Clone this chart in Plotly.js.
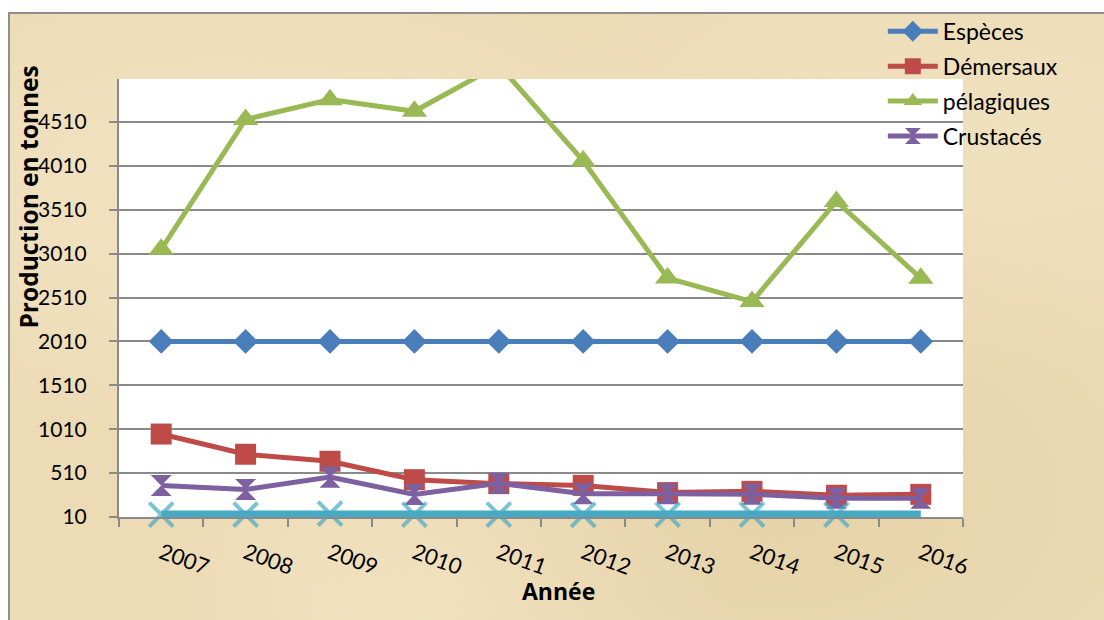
<!DOCTYPE html>
<html>
<head>
<meta charset="utf-8">
<script src="https://cdn.plot.ly/plotly-3.0.1.min.js"></script>
<style>
  html, body { margin: 0; padding: 0; background: #ffffff; }
  #frame {
    position: absolute; left: 8px; top: 12px; width: 1096px; height: 608px;
    border-left: 2px solid #8e8e8e; border-top: 2px solid #8e8e8e;
    background-color: #ecdbb5;
    background-image:
      radial-gradient(ellipse at 20% 30%, rgba(245,230,200,0.7) 0%, rgba(245,230,200,0) 40%),
      radial-gradient(ellipse at 70% 80%, rgba(225,205,160,0.6) 0%, rgba(225,205,160,0) 45%),
      radial-gradient(ellipse at 90% 20%, rgba(242,228,196,0.6) 0%, rgba(242,228,196,0) 35%),
      radial-gradient(ellipse at 40% 95%, rgba(248,234,205,0.6) 0%, rgba(248,234,205,0) 30%);
  }
  #chart { position: absolute; left: 0; top: 0; width: 1104px; height: 620px; }
</style>
</head>
<body>
<div id="frame"></div>
<div id="chart"></div>
<script>
// ---- Data ----
const annees = ['2007', '2008', '2009', '2010', '2011', '2012', '2013', '2014', '2015', '2016'];
const especes = [2010, 2010, 2010, 2010, 2010, 2010, 2010, 2010, 2010, 2010];
const demersaux = [955, 725, 645, 435, 390, 370, 288, 302, 258, 268];
const pelagiques = [3060, 4540, 4765, 4632, 5160, 4067, 2732, 2464, 3605, 2730];
const crustaces = [370, 324, 464, 267, 395, 275, 275, 270, 225, 225];
const serie5 = [38, 38, 48, 38, 38, 35, 38, 38, 38, 38];

const seriesNames = ['Espèces', 'Démersaux', 'pélagiques', 'Crustacés', 'Série 5'];
const yTicks = [10, 510, 1010, 1510, 2010, 2510, 3010, 3510, 4010, 4510];

const FONT = 'Lato, "Open Sans", sans-serif';
const TITLE_FONT = '"Open Sans", Lato, sans-serif';

function lineTrace(name, y, color, symbol, size, width, group, extra) {
  return Object.assign({
    type: 'scatter', mode: 'lines+markers', name: name,
    x: annees, y: y, legendgroup: group,
    line: { color: color, width: width },
    marker: { symbol: symbol, size: size, color: color }
  }, extra || {});
}

const traces = [
  lineTrace(seriesNames[0], especes, '#4a7ebb', 'diamond', 19, 5, 'g1'),
  lineTrace(seriesNames[1], demersaux, '#be4b48', 'square', 21, 5, 'g2'),
  lineTrace(seriesNames[2], pelagiques, '#98b954', 'triangle-up', 22, 5, 'g3'),
  lineTrace(seriesNames[3], crustaces, '#7d60a0', 'hourglass', 21, 5, 'g4'),
  lineTrace(seriesNames[4], serie5, '#46aac5', 'x-thin-open', 24, 8, 'g5', {
    showlegend: false, cliponaxis: false,
    marker: { symbol: 'x-thin-open', size: [24, 24, 24, 24, 24, 24, 24, 24, 24, 0],
              color: '#46aac5', line: { color: '#3fa6c2', width: 4 } }
  })
];

const layout = {
  width: 1104, height: 620,
  paper_bgcolor: 'rgba(0,0,0,0)',
  plot_bgcolor: '#ffffff',
  margin: { l: 119, r: 141, t: 79, b: 103, autoexpand: false },
  font: { family: FONT, color: '#000000' },
  showlegend: true,
  legend: {
    x: 0.905, y: 1.158, xanchor: 'left', yanchor: 'top',
    bgcolor: 'rgba(0,0,0,0)', font: { family: FONT, size: 23, color: '#000' },
    tracegroupgap: 2, itemwidth: 50
  },
  xaxis: {
    type: 'category', range: [-0.5, 9.5],
    showgrid: false, zeroline: false,
    showline: true, linecolor: '#8a8a8a', linewidth: 2,
    ticks: 'outside', ticklen: 8, tickcolor: '#8a8a8a', tickwidth: 2,
    tickson: 'boundaries',
    tickangle: 20,
    tickfont: { family: FONT, size: 22, color: '#000' },
    ticklabelstandoff: 13
  },
  yaxis: {
    range: [10, 5000],
    tickvals: yTicks, ticktext: yTicks.map(String),
    showgrid: true, gridcolor: '#8a8a8a', gridwidth: 2,
    zeroline: false,
    showline: true, linecolor: '#8a8a8a', linewidth: 2,
    ticks: 'outside', ticklen: 8, tickcolor: '#8a8a8a', tickwidth: 2,
    tickfont: { family: FONT, size: 21, color: '#000' },
    ticklabelstandoff: 18
  },
  annotations: [
    { text: '<b>Production en tonnes</b>', xref: 'paper', yref: 'paper',
      x: -0.1075, y: 0.73, xanchor: 'center', yanchor: 'middle', textangle: -90,
      showarrow: false, font: { family: TITLE_FONT, size: 24.5, color: '#000' } },
    { text: '<b>Année</b>', xref: 'paper', yref: 'paper',
      x: 0.5213, y: -0.169, xanchor: 'center', yanchor: 'middle',
      showarrow: false, font: { family: TITLE_FONT, size: 23, color: '#000' } }
  ]
};

Plotly.newPlot('chart', traces, layout, { displayModeBar: false, staticPlot: true });
</script>
</body>
</html>
